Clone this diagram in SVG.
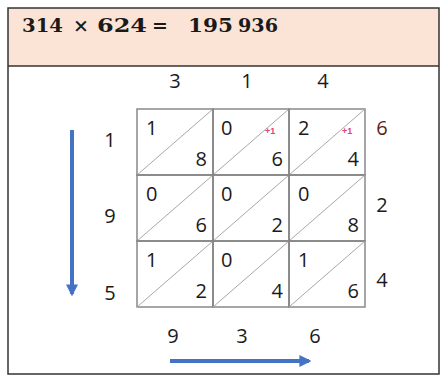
<svg xmlns="http://www.w3.org/2000/svg" width="443" height="376" viewBox="0 0 443 376">
<style>
.d{font-family:"Open Sans","Liberation Sans",sans-serif;font-size:20px;fill:#1a1a1a}
.r{text-anchor:end}
.c{text-anchor:middle}
.p{font-family:"Liberation Sans",sans-serif;font-size:9px;fill:#e0407a;font-weight:bold}
.h{font-family:"DejaVu Serif","Liberation Serif",serif;font-weight:bold;font-size:19px;fill:#1a1a1a}
.cell{fill:none;stroke:#808080;stroke-width:1.4}
.diag{stroke:#a8a8a8;stroke-width:1}
.arr{stroke:#4472C4;stroke-width:4;fill:none}
</style>
<defs>
<marker id="ah" viewBox="0 0 10 10" refX="8" refY="5" markerWidth="3" markerHeight="3" orient="auto" markerUnits="strokeWidth">
<path d="M0,0 L10,5 L0,10 z" fill="#4472C4"/>
</marker>
</defs>
<rect x="0" y="0" width="443" height="376" fill="#fff"/>
<g id="frame">
<rect x="8" y="8" width="431" height="58" fill="#fbe3d6"/>
<rect x="8" y="8" width="431" height="366" fill="none" stroke="#333" stroke-width="1.5"/>
<line x1="8" y1="66" x2="439" y2="66" stroke="#333" stroke-width="1.5"/>
</g>
<g id="header">
<text class="h" x="22" y="32" textLength="41" lengthAdjust="spacingAndGlyphs">314</text>
<text class="h" x="81" y="32" text-anchor="middle" font-weight="normal">×</text>
<text class="h" x="97" y="32" textLength="50" lengthAdjust="spacingAndGlyphs">624</text>
<text class="h" x="160" y="32" text-anchor="middle">=</text>
<text class="h" x="188" y="32" textLength="45" lengthAdjust="spacingAndGlyphs">195</text>
<text class="h" x="238" y="32" textLength="40" lengthAdjust="spacingAndGlyphs">936</text>
</g>
<g id="top-digits">
<text class="d c" x="175" y="88">3</text>
<text class="d c" x="247" y="88">1</text>
<text class="d c" x="323" y="88">4</text>
</g>
<g id="left-digits">
<text class="d c" x="110" y="147">1</text>
<text class="d c" x="110" y="223">9</text>
<text class="d c" x="110" y="300">5</text>
</g>
<g id="right-digits">
<text class="d c" x="382" y="135" style="fill:#5a1e1e">6</text>
<text class="d c" x="382" y="212">2</text>
<text class="d c" x="382" y="287">4</text>
</g>
<g id="bottom-digits">
<text class="d c" x="173" y="343">9</text>
<text class="d c" x="242" y="343">3</text>
<text class="d c" x="315" y="343">6</text>
</g>
<g id="grid">
<g id="r0c0"><rect class="cell" x="137" y="109" width="76" height="66"/><line class="diag" x1="137" y1="175" x2="213" y2="109"/><text class="d" x="146" y="135">1</text><text class="d r" x="207" y="166">8</text></g>
<g id="r0c1"><rect class="cell" x="213" y="109" width="76" height="66"/><line class="diag" x1="213" y1="175" x2="289" y2="109"/><text class="d" x="221" y="135">0</text><text class="d r" x="283" y="166">6</text><text class="p" x="265" y="134">+1</text></g>
<g id="r0c2"><rect class="cell" x="289" y="109" width="76" height="66"/><line class="diag" x1="289" y1="175" x2="365" y2="109"/><text class="d" x="298" y="135">2</text><text class="d r" x="359" y="166">4</text><text class="p" x="342" y="134">+1</text></g>
<g id="r1c0"><rect class="cell" x="137" y="175" width="76" height="66"/><line class="diag" x1="137" y1="241" x2="213" y2="175"/><text class="d" x="146" y="201">0</text><text class="d r" x="207" y="232">6</text></g>
<g id="r1c1"><rect class="cell" x="213" y="175" width="76" height="66"/><line class="diag" x1="213" y1="241" x2="289" y2="175"/><text class="d" x="221" y="201">0</text><text class="d r" x="283" y="232">2</text></g>
<g id="r1c2"><rect class="cell" x="289" y="175" width="76" height="66"/><line class="diag" x1="289" y1="241" x2="365" y2="175"/><text class="d" x="298" y="201">0</text><text class="d r" x="359" y="232">8</text></g>
<g id="r2c0"><rect class="cell" x="137" y="241" width="76" height="66"/><line class="diag" x1="137" y1="307" x2="213" y2="241"/><text class="d" x="146" y="267">1</text><text class="d r" x="207" y="298">2</text></g>
<g id="r2c1"><rect class="cell" x="213" y="241" width="76" height="66"/><line class="diag" x1="213" y1="307" x2="289" y2="241"/><text class="d" x="221" y="267">0</text><text class="d r" x="283" y="298">4</text></g>
<g id="r2c2"><rect class="cell" x="289" y="241" width="76" height="66"/><line class="diag" x1="289" y1="307" x2="365" y2="241"/><text class="d" x="298" y="267">1</text><text class="d r" x="359" y="298">6</text></g>
</g>
<g id="connectors">
<line class="arr" x1="72" y1="130" x2="72" y2="294" marker-end="url(#ah)"/>
<line class="arr" x1="170" y1="361" x2="309" y2="361" marker-end="url(#ah)"/>
</g>
</svg>
